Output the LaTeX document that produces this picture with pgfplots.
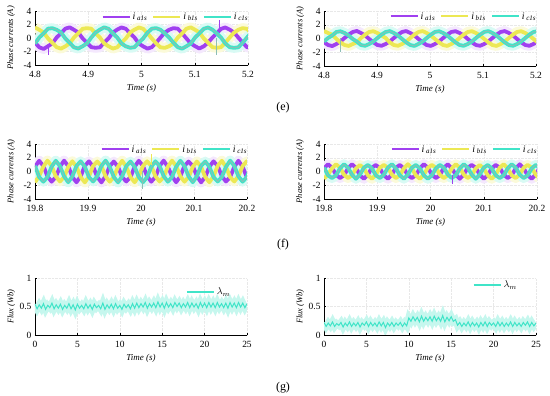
\documentclass[border=0pt]{standalone}
\usepackage{fontspec}
\setmainfont{Liberation Serif}
\usepackage{pgfplots}
\usepackage{pgfplotstable}
\pgfplotsset{compat=1.18}
\definecolor{ca}{RGB}{160,64,240}
\definecolor{cb}{RGB}{236,232,84}
\definecolor{cc}{RGB}{64,228,200}
\definecolor{ccd}{RGB}{140,190,180}

\pgfplotstableread{
t a b c
4.8000 -0.68 1.55 -0.82
4.8081 -1.38 1.22 0.08
4.8163 -1.62 0.80 0.70
4.8244 -1.21 -0.06 1.38
4.8325 -0.82 -0.70 1.45
4.8406 0.07 -1.36 1.22
4.8488 0.70 -1.58 0.83
4.8569 1.38 -1.24 -0.06
4.8650 1.58 -0.80 -0.70
4.8731 1.22 0.06 -1.38
4.8813 0.82 0.70 -1.56
4.8894 -0.06 1.36 -1.22
4.8975 -0.70 1.46 -0.80
4.9056 -1.36 1.38 0.06
4.9138 -1.45 0.68 0.82
4.9219 -1.38 0.07 1.24
4.9300 -0.68 -0.82 1.58
4.9381 -0.06 -1.22 1.36
4.9463 0.82 -1.56 0.70
4.9544 1.24 -1.38 0.07
4.9625 1.56 -0.68 -0.82
4.9706 1.36 -0.07 -1.24
4.9788 0.68 0.82 -1.45
4.9869 0.07 1.24 -1.36
4.9950 -0.82 1.56 -0.68
5.0031 -1.24 1.36 -0.07
5.0113 -1.58 0.70 0.80
5.0194 -1.36 -0.07 1.38
5.0275 -0.70 -0.80 1.46
5.0356 0.06 -1.38 1.22
5.0438 0.80 -1.46 0.68
5.0519 1.22 -1.22 0.07
5.0600 1.46 -0.82 -0.70
5.0681 1.38 0.06 -1.36
5.0763 0.70 0.68 -1.58
5.0844 -0.07 1.38 -1.22
5.0925 -0.80 1.58 -0.82
5.1006 -1.22 1.22 0.06
5.1088 -1.56 0.82 0.70
5.1169 -1.24 -0.06 1.36
5.1250 -0.68 -0.70 1.56
5.1331 0.06 -1.36 1.24
5.1413 0.70 -1.45 0.68
5.1494 1.36 -1.36 0.06
5.1575 1.56 -0.68 -0.82
5.1656 1.24 0.07 -1.36
5.1738 0.82 0.80 -1.46
5.1819 0.06 1.22 -1.38
5.1900 -0.68 1.46 -0.70
5.1981 -1.36 1.36 0.07
5.2063 -1.46 0.68 0.82
}\PA

\pgfplotstableread{
t a b c
4.8000 -0.55 1.08 -0.42
4.8078 -0.95 0.80 0.08
4.8155 -1.10 0.56 0.44
4.8233 -0.80 -0.06 0.95
4.8310 -0.44 -0.58 1.05
4.8388 0.08 -0.95 0.80
4.8465 0.56 -1.08 0.44
4.8543 0.95 -0.80 -0.08
4.8620 1.10 -0.56 -0.45
4.8698 0.80 0.07 -0.95
4.8775 0.44 0.56 -1.06
4.8853 -0.07 0.95 -0.80
4.8930 -0.56 1.06 -0.44
4.9008 -0.95 0.80 0.07
4.9085 -1.06 0.44 0.56
4.9163 -0.80 0.07 0.95
4.9240 -0.44 -0.56 1.08
4.9318 0.07 -0.95 0.80
4.9395 0.56 -1.06 0.44
4.9473 0.95 -0.80 -0.07
4.9550 1.08 -0.44 -0.56
4.9628 0.80 0.07 -0.95
4.9705 0.44 0.56 -1.08
4.9783 -0.07 0.95 -0.80
4.9860 -0.56 1.08 -0.44
4.9938 -0.95 0.80 0.07
5.0015 -1.08 0.44 0.56
5.0093 -0.80 -0.07 0.95
5.0170 -0.44 -0.56 1.06
5.0248 0.07 -0.95 0.80
5.0325 0.56 -1.08 0.44
5.0403 0.95 -0.80 -0.07
5.0480 1.06 -0.44 -0.56
5.0558 0.80 0.07 -0.95
5.0635 0.44 0.56 -1.06
5.0713 -0.07 0.95 -0.80
5.0790 -0.56 1.06 -0.44
5.0868 -0.95 0.80 0.07
5.0945 -1.06 0.44 0.56
5.1023 -0.80 -0.07 0.95
5.1100 -0.44 -0.56 1.08
5.1178 0.07 -0.95 0.80
5.1255 0.56 -1.08 0.44
5.1333 0.95 -0.80 -0.07
5.1410 1.08 -0.44 -0.56
5.1488 0.80 0.07 -0.95
5.1565 0.44 0.56 -1.06
5.1643 -0.07 0.95 -0.80
5.1720 -0.56 1.06 -0.44
5.1798 -0.95 0.80 0.07
5.1875 -1.06 0.44 0.56
5.1953 -0.80 -0.07 0.95
5.2030 -0.44 -0.56 1.06
}\PB

\pgfplotstableread{
t a b c
19.8000 0.70 -1.55 0.82
19.8078 1.56 -0.68 -0.80
19.8157 0.82 0.70 -1.48
19.8235 -0.70 1.58 -0.82
19.8313 -1.48 0.82 0.70
19.8392 -0.82 -0.70 1.56
19.8470 0.68 -1.45 0.80
19.8548 1.58 -0.82 -0.70
19.8627 0.80 0.68 -1.56
19.8705 -0.82 1.48 -0.70
19.8783 -1.56 0.70 0.82
19.8862 -0.70 -0.82 1.48
19.8940 0.82 -1.58 0.70
19.9018 1.48 -0.70 -0.82
19.9097 0.70 0.82 -1.45
19.9175 -0.80 1.45 -0.68
19.9253 -1.58 0.80 0.82
19.9332 -0.68 -0.70 1.58
19.9410 0.80 -1.48 0.70
19.9488 1.45 -0.80 -0.82
19.9567 0.68 0.70 -1.58
19.9645 -0.82 1.56 -0.70
19.9723 -1.45 0.68 0.80
19.9802 -0.80 -0.82 1.45
19.9880 0.70 -1.56 0.68
19.9958 1.56 -0.68 -0.80
20.0037 0.82 0.80 -1.56
20.0115 -0.68 1.48 -0.82
20.0193 -1.48 0.82 0.68
20.0272 -0.82 -0.68 1.48
20.0350 0.80 -1.45 0.82
20.0428 1.58 -0.80 -0.68
20.0507 0.68 0.70 -1.48
20.0585 -0.70 1.58 -0.80
20.0663 -1.56 0.80 0.70
20.0742 -0.70 -0.70 1.56
20.0820 0.82 -1.48 0.80
20.0898 1.45 -0.82 -0.70
20.0977 0.80 0.68 -1.56
20.1055 -0.68 1.45 -0.68
20.1133 -1.58 0.70 0.82
20.1212 -0.80 -0.80 1.45
20.1290 0.70 -1.56 0.70
20.1368 1.48 -0.70 -0.82
20.1447 0.82 0.82 -1.45
20.1525 -0.70 1.56 -0.80
20.1603 -1.45 0.68 0.68
20.1682 -0.82 -0.82 1.58
20.1760 0.68 -1.45 0.82
20.1838 1.56 -0.68 -0.70
20.1917 0.70 0.80 -1.48
20.1995 -0.80 1.48 -0.82
20.2073 -1.48 0.70 0.70
}\PC

\pgfplotstableread{
t a b c
19.8000 0.45 -1.05 0.56
19.8075 1.06 -0.45 -0.55
19.8150 0.56 0.45 -0.95
19.8225 -0.45 1.05 -0.56
19.8300 -0.95 0.56 0.45
19.8375 -0.56 -0.45 1.06
19.8450 0.45 -0.95 0.55
19.8525 1.05 -0.56 -0.45
19.8600 0.55 0.45 -1.06
19.8675 -0.56 0.95 -0.45
19.8750 -1.06 0.45 0.56
19.8825 -0.45 -0.56 0.95
19.8900 0.56 -1.06 0.45
19.8975 0.95 -0.45 -0.56
19.9050 0.45 0.56 -0.95
19.9125 -0.55 0.95 -0.45
19.9200 -1.05 0.55 0.56
19.9275 -0.45 -0.45 1.05
19.9350 0.55 -0.95 0.45
19.9425 0.95 -0.55 -0.56
19.9500 0.45 0.45 -1.05
19.9575 -0.56 1.06 -0.45
19.9650 -0.95 0.45 0.55
19.9725 -0.55 -0.56 0.95
19.9800 0.45 -1.06 0.45
19.9875 1.06 -0.45 -0.55
19.9950 0.56 0.55 -1.06
20.0025 -0.45 0.95 -0.56
20.0100 -0.95 0.56 0.45
20.0175 -0.56 -0.45 0.95
20.0250 0.55 -0.95 0.56
20.0325 1.05 -0.55 -0.45
20.0400 0.45 0.45 -0.95
20.0475 -0.45 1.05 -0.55
20.0550 -1.06 0.55 0.45
20.0625 -0.45 -0.45 1.06
20.0700 0.56 -0.95 0.55
20.0775 0.95 -0.56 -0.45
20.0850 0.55 0.45 -1.06
20.0925 -0.45 0.95 -0.45
20.1000 -1.05 0.45 0.56
20.1075 -0.55 -0.55 0.95
20.1150 0.45 -1.06 0.45
20.1225 0.95 -0.45 -0.56
20.1300 0.56 0.56 -0.95
20.1375 -0.45 1.06 -0.55
20.1450 -0.95 0.45 0.45
20.1525 -0.56 -0.56 1.05
20.1600 0.45 -0.95 0.56
20.1675 1.05 -0.45 -0.45
20.1750 0.45 0.55 -0.95
20.1825 -0.55 0.95 -0.56
20.1900 -1.06 0.56 0.45
20.1975 -0.45 -0.45 0.95
20.2050 0.56 -1.05 0.55
}\PD

\pgfplotstableread{
t y
0 .54
0.25 .46
0.5 .53
0.75 .47
1 .55
1.25 .45
1.5 .52
1.75 .48
2 .56
2.25 .46
2.5 .53
2.75 .47
3 .54
3.25 .45
3.5 .52
3.75 .47
4 .55
4.25 .46
4.5 .53
4.75 .44
5 .54
5.25 .47
5.5 .52
5.75 .46
6 .55
6.25 .47
6.5 .53
6.75 .45
7 .54
7.25 .48
7.5 .52
7.75 .46
8 .56
8.25 .45
8.5 .53
8.75 .47
9 .54
9.25 .46
9.5 .55
9.75 .47
10 .52
10.25 .45
10.5 .54
10.75 .48
11 .53
11.25 .46
11.5 .55
11.75 .47
12 .56
12.25 .48
12.5 .55
12.75 .49
13 .57
13.25 .47
13.5 .55
13.75 .49
14 .56
14.25 .48
14.5 .58
14.75 .49
15 .56
15.25 .47
15.5 .57
15.75 .49
16 .55
16.25 .48
16.5 .57
16.75 .50
17 .56
17.25 .48
17.5 .55
17.75 .49
18 .57
18.25 .48
18.5 .56
18.75 .49
19 .55
19.25 .47
19.5 .57
19.75 .49
20 .56
20.25 .48
20.5 .57
20.75 .49
21 .56
21.25 .48
21.5 .57
21.75 .49
22 .55
22.25 .48
22.5 .56
22.75 .47
23 .57
23.25 .49
23.5 .56
23.75 .48
24 .57
24.25 .49
24.5 .56
24.75 .48
25 .55
}\FA

\pgfplotstableread{
t y
0 .22
0.25 .15
0.5 .21
0.75 .16
1 .23
1.25 .15
1.5 .20
1.75 .17
2 .22
2.25 .14
2.5 .21
2.75 .16
3 .23
3.25 .15
3.5 .21
3.75 .16
4 .22
4.25 .14
4.5 .21
4.75 .17
5 .23
5.25 .15
5.5 .22
5.75 .16
6 .21
6.25 .15
6.5 .23
6.75 .16
7 .22
7.25 .13
7.5 .21
7.75 .16
8 .22
8.25 .15
8.5 .21
8.75 .17
9 .22
9.25 .15
9.5 .21
9.75 .16
10 .30
10.25 .24
10.5 .32
10.75 .25
11 .31
11.25 .23
11.5 .33
11.75 .24
12 .31
12.25 .25
12.5 .32
12.75 .24
13 .33
13.25 .25
13.5 .31
13.75 .24
14 .34
14.25 .23
14.5 .31
14.75 .25
15 .32
15.25 .24
15.5 .27
15.75 .17
16 .22
16.25 .15
16.5 .21
16.75 .16
17 .23
17.25 .15
17.5 .22
17.75 .16
18 .21
18.25 .14
18.5 .22
18.75 .16
19 .23
19.25 .15
19.5 .22
19.75 .17
20 .21
20.25 .15
20.5 .23
20.75 .16
21 .22
21.25 .15
21.5 .21
21.75 .16
22 .23
22.25 .15
22.5 .22
22.75 .16
23 .21
23.25 .15
23.5 .22
23.75 .17
24 .23
24.25 .15
24.5 .22
24.75 .16
25 .21
}\FB

\pgfplotsset{
  panel/.style={
    scale only axis,
    anchor=south west,
    axis x line*=bottom,
    axis y line*=left,
    axis line style={black, line width=0.5pt},
    tick style={black, line width=0.4pt},
    tick align=inside,
    major tick length=2.5pt,
    grid=major,
    grid style={densely dotted, gray!18, line width=0.3pt},
    ticklabel style={font=\fontsize{9.5}{10}\selectfont},
    /pgf/number format/assume math mode=true,
    xticklabel style={yshift=-2.5pt},
    every axis x label/.style={at={(axis description cs:0.5,0)}, anchor=center, yshift=-23bp, font=\fontsize{9}{10}\selectfont\itshape},
    every axis y label/.style={at={(axis description cs:-0.112,0.5)}, rotate=90, anchor=center, font=\fontsize{8.5}{10}\selectfont\itshape},
    legend style={draw=none, fill=none, font=\fontsize{10}{11}\selectfont, legend columns=-1,
      /tikz/every even column/.append style={column sep=3pt}},
    legend image code/.code={\draw[#1, line width=2bp] (0bp,0bp) -- (27bp,0bp);},
  },
  cur/.style={panel, ymin=-4, ymax=4, ytick={-4,-2,0,2,4}, xmin=#1-0.2, xmax=#1+0.2,
    ylabel={Phase currents (A)}, xlabel={Time (s)},
    legend style={at={(axis description cs:1.025,1.05)}, anchor=north east}},
  flux/.style={panel, ymin=0, ymax=1, ytick={0,0.5,1}, xmin=0, xmax=25, xtick={0,5,...,25},
    ylabel={Flux (Wb)}, xlabel={Time (s)}},
  sa/.style={ca, line width=3.8bp, line join=round},
  sb/.style={cb, line width=3.8bp, line join=round},
  sc/.style={cc, line width=3.8bp, line join=round},
  sd/.style={ccd, line width=0.9bp, line join=round, forget plot},
  ha/.style={ca!12, line width=10bp, line join=round, forget plot},
  hb/.style={cb!22, line width=10bp, line join=round, forget plot},
  hc/.style={cc!20, line width=10bp, line join=round, forget plot},
  spk/.style={line width=0.8bp, forget plot},
}

\newcommand{\legA}{\textit{i}\,\textsubscript{\textit{a1s}}}
\newcommand{\legB}{\textit{i}\,\textsubscript{\textit{b1s}}}
\newcommand{\legC}{\textit{i}\,\textsubscript{\textit{c1s}}}

\begin{document}
\begin{tikzpicture}
\useasboundingbox (0,0) rectangle (550bp,396bp);

% (e) left
\begin{axis}[cur=5, at={(35bp,331bp)}, width=213bp, height=54bp, xtick={4.8,4.9,5,5.1,5.2}]
\addplot[ha] table[x=t,y=a]{\PA};
\addplot[hb] table[x=t,y=b]{\PA};
\addplot[hc] table[x=t,y=c]{\PA};
\addplot[sa] table[x=t,y=a]{\PA};
\addplot[sb] table[x=t,y=b]{\PA};
\addplot[sc] table[x=t,y=c]{\PA};
\addplot[sd] table[x=t,y=c]{\PA};
\addplot[ca, spk] coordinates {(4.826,-1.2) (4.826,-2.5)};
\addplot[ca, spk] coordinates {(5.147,1.2) (5.147,2.6)};
\addplot[ccd, spk] coordinates {(5.141,0) (5.141,-2.5)};
\legend{\legA,\legB,\legC}
\end{axis}

% (e) right
\begin{axis}[cur=5, at={(324bp,330bp)}, width=212bp, height=55bp, xtick={4.8,4.9,5,5.1,5.2}]
\addplot[ha] table[x=t,y=a]{\PB};
\addplot[hb] table[x=t,y=b]{\PB};
\addplot[hc] table[x=t,y=c]{\PB};
\addplot[sa] table[x=t,y=a]{\PB};
\addplot[sb] table[x=t,y=b]{\PB};
\addplot[sc] table[x=t,y=c]{\PB};
\addplot[sd] table[x=t,y=c]{\PB};
\addplot[ccd, spk] coordinates {(4.830,0) (4.830,-2.0)};
\legend{\legA,\legB,\legC}
\end{axis}

% (f) left
\begin{axis}[cur=20, at={(35bp,197bp)}, width=212bp, height=55bp, xtick={19.8,19.9,20,20.1,20.2}]
\addplot[ha] table[x=t,y=a]{\PC};
\addplot[hb] table[x=t,y=b]{\PC};
\addplot[hc] table[x=t,y=c]{\PC};
\addplot[sa] table[x=t,y=a]{\PC};
\addplot[sb] table[x=t,y=b]{\PC};
\addplot[sc] table[x=t,y=c]{\PC};
\addplot[sd] table[x=t,y=c]{\PC};
\addplot[ccd, spk] coordinates {(20.003,0) (20.003,-2.6)};
\addplot[cb, spk] coordinates {(20.020,1) (20.020,2.5)};
\legend{\legA,\legB,\legC}
\end{axis}

% (f) right
\begin{axis}[cur=20, at={(324bp,197bp)}, width=213bp, height=55bp, xtick={19.8,19.9,20,20.1,20.2}]
\addplot[ha] table[x=t,y=a]{\PD};
\addplot[hb] table[x=t,y=b]{\PD};
\addplot[hc] table[x=t,y=c]{\PD};
\addplot[sa] table[x=t,y=a]{\PD};
\addplot[sb] table[x=t,y=b]{\PD};
\addplot[sc] table[x=t,y=c]{\PD};
\addplot[sd] table[x=t,y=c]{\PD};
\addplot[ca, spk] coordinates {(20.042,-0.5) (20.042,-1.8)};
\legend{\legA,\legB,\legC}
\end{axis}

% (g) left
\begin{axis}[flux, at={(35bp,61bp)}, width=212bp, height=57bp,
  legend style={at={(axis description cs:0.945,0.755)}, anchor=east}]
\addplot[cc!30, line width=7bp, forget plot] table[x=t,y=y]{\FA};
\addplot[cc, line width=1bp] table[x=t,y=y]{\FA};
\legend{$\lambda_m$}
\end{axis}

% (g) right
\begin{axis}[flux, at={(324bp,61bp)}, width=212bp, height=57bp,
  legend style={at={(axis description cs:0.935,0.877)}, anchor=east}]
\addplot[cc!30, line width=7bp, forget plot] table[x=t,y=y]{\FB};
\addplot[cc, line width=1bp] table[x=t,y=y]{\FB};
\legend{$\lambda_m$}
\end{axis}

\node[font=\fontsize{12}{14}\selectfont] at (283bp,288bp) {(e)};
\node[font=\fontsize{12}{14}\selectfont] at (283bp,151bp) {(f)};
\node[font=\fontsize{12}{14}\selectfont] at (283bp,8bp) {(g)};
\end{tikzpicture}
\end{document}
